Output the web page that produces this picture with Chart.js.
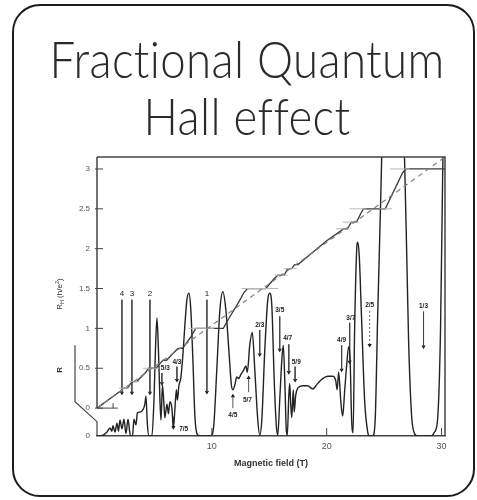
<!DOCTYPE html>
<html><head><meta charset="utf-8">
<script src="https://cdn.jsdelivr.net/npm/chart.js@4/dist/chart.umd.min.js"></script>
<style>
html,body{margin:0;padding:0;background:#fff;}
#wrap{position:relative;width:477px;height:500px;overflow:hidden;background:#fff;}
#frame{position:absolute;left:12px;top:4px;width:459px;height:489px;border:2px solid #1c1c1c;border-radius:28px;}
canvas{position:absolute;left:0;top:0;}
</style></head><body>
<div id="wrap"><div id="frame"></div><canvas id="c" width="477" height="500"></canvas></div>
<script>
const titleLines = ['Fractional Quantum', 'Hall effect'];
const xTicks = [10, 20, 30];
const yTicks = [0, 0.5, 1, 1.5, 2, 2.5, 3];
const yTickLabels = ['0', '0.5', '1', '1.5', '2', '2.5', '3'];

// Longitudinal resistance R (arbitrary units) vs magnetic field B (T)
const rB = [0,0.52,0.87,1.13,1.30,1.39,1.57,1.74,1.87,2.0,
  2.17,2.35,2.52,2.70,2.91,3.09,3.22,3.39,3.52,3.74,
  4.0,4.17,4.26,4.39,4.52,4.78,4.96,5.09,5.22,5.35,
  5.48,5.57,5.70,5.83,5.91,6.09,6.22,6.35,6.52,6.65,
  6.78,6.91,7.0,7.13,7.30,7.48,7.65,7.83,8.0,8.17,
  8.35,8.52,8.70,8.96,9.91,10.17,10.43,10.70,10.96,11.22,
  11.48,11.70,11.83,12.0,12.17,12.35,12.52,12.78,12.96,13.09,
  13.30,13.52,13.74,14.0,14.17,14.35,14.61,14.87,15.04,15.22,
  15.43,15.61,15.74,15.91,16.09,16.22,16.35,16.48,16.57,16.70,
  16.78,16.87,16.96,17.09,17.17,17.30,17.48,17.91,18.35,18.78,
  19.22,19.65,20.09,20.52,20.78,20.91,21.04,21.22,21.39,21.57,
  21.74,21.91,22.04,22.17,22.30,22.43,22.61,22.70,22.83,23.04,
  23.30,23.57,23.74,24.0,24.22,24.43,24.70,24.96,25.22,25.48,
  26.0,26.52,26.78,26.96,27.13,27.39,27.65,27.91,29.13,29.39,
  29.65,29.91,30.09,30.26];
const rVal = [0,0.01,0.05,0.10,0.06,0.13,0.05,0.16,0.06,0.20,
  0.09,0.21,0.03,0.21,0.0,0.0,0.21,0.14,0.29,0.30,
  0.33,0.40,0.50,0.14,0,0,0.45,1.08,1.48,1.08,
  0.45,0.20,0.64,0.39,0.23,0.40,0.28,0.43,0.35,0.10,
  0.33,0.58,0.45,0.63,0.73,1.02,1.39,1.71,1.79,1.58,
  0.95,0.26,0.03,0,0,0.14,0.83,1.58,1.81,1.58,
  1.08,0.64,0.58,0.64,0.74,0.72,0.77,0.83,0.88,0.80,
  1.14,1.30,0.83,0.20,0.01,0.20,1.08,1.71,1.79,1.64,
  0.70,0.14,0.01,0.45,0.95,1.14,0.70,0.08,0.01,0.51,
  0.66,0.39,0.23,0.58,0.30,0.51,0.60,0.63,0.63,0.59,
  0.66,0.72,0.75,0.75,0.70,0.58,0.80,0.45,0.25,0.58,
  0.89,1.12,0.95,0.20,0.04,1.33,2.33,2.43,2.27,1.46,
  0.45,0.05,0,0,0.20,1.46,2.96,4.47,5.2,5.35,
  5.5,4.72,3.46,2.33,1.20,0.26,0.03,0,0,0.05,
  0.20,1.33,3.21,4.7];

// Hall resistance R_H (h/e^2) vs B
const hB = [0,2.1,2.3,2.65,2.95,3.1,3.45,4.25,4.5,5.15,
  5.55,5.75,6.05,6.85,7.05,7.45,8.2,8.6,11.0,11.5,
  12.3,12.8,13.1,14.7,15.4,15.75,16.3,16.6,16.95,17.2,
  17.5,20.0,21.2,21.45,21.8,22.15,22.6,23.0,23.2,25.1,
  26.6,26.9,30.3];
const hVal = [0,0.22,0.25,0.25,0.31,0.333,0.333,0.45,0.5,0.5,
  0.57,0.6,0.6,0.72,0.75,0.75,0.9,1.0,1.0,1.13,
  1.32,1.45,1.5,1.5,1.62,1.667,1.667,1.75,1.75,1.8,
  1.8,2.1,2.22,2.25,2.25,2.333,2.333,2.45,2.5,2.5,
  2.95,3.0,3.0];

// Classical Hall line (dashed)
const classicalB = [0, 30.3];
const classicalR = [0, 3.15];

// R_H zero reference stub
const baseB = [0, 1.8];
const baseR = [0, 0];

// Quantized plateau marks (R_H level, field range)
const plateauR  = [0.25, 0.333, 0.5, 1.0, 1.5, 1.667, 1.75, 2.25, 2.333, 2.5, 2.5, 3.0];
const plateauB0 = [1.9, 2.8, 4.0, 8.0, 12.6, 15.5, 16.3, 20.8, 21.4, 22.0, 24.6, 25.5];
const plateauB1 = [2.8, 3.7, 5.4, 10.2, 15.8, 16.6, 17.4, 21.9, 22.8, 23.4, 25.7, 27.2];

// Filling-factor annotations (positions in B and R units)
const fracText   = ['4','3','2','1','5/3','4/3','7/5','2/3','3/5','4/7','5/9','4/5','5/7','4/9','3/7','2/5','1/3'];
const labelB     = [2.17,3.04,4.61,9.57,5.95,6.96,7.55,14.17,15.91,16.6,17.35,11.83,13.1,21.3,22.1,23.74,28.43];
const labelR     = [1.79,1.79,1.79,1.79,0.85,0.93,0.09,1.39,1.58,1.23,0.93,0.26,0.45,1.20,1.48,1.64,1.63];
const arrowB     = [2.17,3.04,4.61,9.57,5.65,6.96,6.65,14.17,15.91,16.7,17.25,11.83,13.2,21.3,22.0,23.74,28.43];
const arrowFromR = [1.71,1.71,1.71,1.71,0.79,0.87,0.24,1.33,1.50,1.15,0.87,0.35,0.55,1.14,1.42,1.57,1.56];
const arrowToR   = [0.54,0.54,0.54,0.55,0.66,0.70,0.11,1.02,1.08,0.80,0.70,0.50,0.73,0.83,0.93,1.14,1.12];
const arrowStyle = ['solid','solid','solid','solid','solid','solid','solid','solid','solid','solid','solid','solid','solid','solid','solid','dashed','solid'];

Chart.defaults.font.family = "'Liberation Sans', Arial, sans-serif";

const pts = (xs, ys) => xs.map((b, i) => ({x: b, y: ys[i]}));
const markerData = [];
plateauR.forEach((r, i) => {
  markerData.push({x: plateauB0[i], y: r}, {x: plateauB1[i], y: r}, {x: plateauB1[i], y: null});
});
function arrowSegments(style) {
  const out = [];
  fracText.forEach((t, i) => {
    if (arrowStyle[i] !== style) return;
    out.push({x: arrowB[i], y: arrowFromR[i]}, {x: arrowB[i], y: arrowToR[i]}, {x: arrowB[i], y: null});
  });
  return out;
}

const decor = {
  id: 'decor',
  beforeDraw(chart) {
    const ctx = chart.ctx;
    ctx.save();
    ctx.fillStyle = '#2a2a2a';
    ctx.font = "300 52px Lato, 'Open Sans', sans-serif";
    if ('letterSpacing' in ctx) ctx.letterSpacing = '0.4px';
    ctx.textAlign = 'center';
    ctx.textBaseline = 'alphabetic';
    const w = ctx.measureText(titleLines[0]).width;
    const sx = 395 / w;
    ctx.translate(247, 0);
    ctx.scale(sx, 1);
    ctx.fillText(titleLines[0], 0, 78);
    ctx.fillText(titleLines[1], 0, 135);
    ctx.restore();
  },
  afterDraw(chart) {
    const {ctx, chartArea: a, scales: {x, y, y2}} = chart;
    ctx.save();
    ctx.strokeStyle = '#444';
    ctx.lineWidth = 1.5;
    // frame top/right
    ctx.beginPath();
    ctx.moveTo(a.left, a.top); ctx.lineTo(a.right, a.top); ctx.lineTo(a.right, a.bottom);
    ctx.stroke();
    // R_H axis
    ctx.beginPath();
    ctx.moveTo(a.left, a.top); ctx.lineTo(a.left, y.getPixelForValue(0));
    ctx.stroke();
    // R axis with break
    ctx.lineWidth = 1.2;
    ctx.beginPath();
    ctx.moveTo(a.left - 22, y2.getPixelForValue(1.14));
    ctx.lineTo(a.left - 22, y2.getPixelForValue(0.43));
    ctx.lineTo(a.left, y2.getPixelForValue(0.18));
    ctx.lineTo(a.left, a.bottom);
    ctx.stroke();
    // inward ticks
    ctx.lineWidth = 1;
    ctx.beginPath();
    yTicks.forEach(v => { const p = y.getPixelForValue(v); ctx.moveTo(a.left - 2, p); ctx.lineTo(a.left + 6, p); });
    xTicks.forEach(v => { const p = x.getPixelForValue(v); ctx.moveTo(p, a.bottom); ctx.lineTo(p, a.bottom - 8); });
    ctx.moveTo(x.getPixelForValue(1.4), y.getPixelForValue(0)); ctx.lineTo(x.getPixelForValue(1.4), y.getPixelForValue(0) - 5);
    ctx.stroke();
    // R zero label
    ctx.fillStyle = '#555';
    ctx.font = "8px 'Liberation Sans', Arial, sans-serif";
    ctx.textAlign = 'right'; ctx.textBaseline = 'middle';
    ctx.fillText('0', a.left - 7, y2.getPixelForValue(0));
    // axis titles (rotated)
    ctx.fillStyle = '#333';
    ctx.save();
    ctx.translate(a.left - 37, y2.getPixelForValue(0.83));
    ctx.rotate(-Math.PI / 2);
    ctx.textAlign = 'center';
    ctx.font = "bold 8px 'Liberation Sans', Arial, sans-serif";
    ctx.fillText('R', 0, 0);
    ctx.restore();
    ctx.save();
    ctx.translate(a.left - 37, y2.getPixelForValue(1.78));
    ctx.rotate(-Math.PI / 2);
    ctx.textAlign = 'left';
    const f8 = "8px 'Liberation Sans', Arial, sans-serif", f5 = "5.5px 'Liberation Sans', Arial, sans-serif";
    const parts = [['R', f8, 0], ['H', f5, 2], [' (h/e', f8, 0], ['2', f5, -3], [')', f8, 0]];
    let tw = 0;
    parts.forEach(p => { ctx.font = p[1]; tw += ctx.measureText(p[0]).width; });
    let cx = -tw / 2;
    parts.forEach(p => { ctx.font = p[1]; ctx.fillText(p[0], cx, p[2]); cx += ctx.measureText(p[0]).width; });
    ctx.restore();
    // filling factor labels
    ctx.fillStyle = '#1a1a1a';
    ctx.textAlign = 'center'; ctx.textBaseline = 'middle';
    fracText.forEach((t, i) => {
      ctx.font = t.includes('/') ? "bold 6.5px 'Liberation Sans', Arial, sans-serif" : "8px 'Liberation Sans', Arial, sans-serif";
      ctx.fillText(t, x.getPixelForValue(labelB[i]), y2.getPixelForValue(labelR[i]));
    });
    ctx.restore();
  }
};

new Chart(document.getElementById('c'), {
  type: 'line',
  data: {
    datasets: [
      {data: pts(classicalB, classicalR), yAxisID: 'y', borderColor: '#808080', borderWidth: 1.2, borderDash: [5, 4], pointRadius: 0},
      {data: markerData, yAxisID: 'y', borderColor: '#b8b8b8', borderWidth: 1, pointRadius: 0, spanGaps: false},
      {data: pts(baseB, baseR), yAxisID: 'y', borderColor: '#444', borderWidth: 1, pointRadius: 0},
      {data: pts(hB, hVal), yAxisID: 'y', borderColor: '#3a3a3a', borderWidth: 1.3, pointRadius: 0},
      {data: pts(rB, rVal), yAxisID: 'y2', borderColor: '#222', borderWidth: 1.4, pointRadius: 0, cubicInterpolationMode: 'monotone'},
      {data: arrowSegments('solid'), yAxisID: 'y2', borderColor: '#444', borderWidth: 0.9, pointRadius: 0, spanGaps: false},
      {data: arrowSegments('dashed'), yAxisID: 'y2', borderColor: '#444', borderWidth: 0.9, borderDash: [2, 2], pointRadius: 0, spanGaps: false},
      {data: pts(arrowB, arrowToR), yAxisID: 'y2', showLine: false, pointStyle: 'triangle', pointRadius: 2.4,
       pointRotation: c => (arrowToR[c.dataIndex] < arrowFromR[c.dataIndex] ? 180 : 0),
       pointBackgroundColor: '#111', pointBorderColor: '#111', pointBorderWidth: 0}
    ]
  },
  options: {
    responsive: false, animation: false, devicePixelRatio: 1,
    layout: {padding: {top: 157, right: 32, left: 0, bottom: 0}},
    plugins: {legend: {display: false}, tooltip: {enabled: false}},
    scales: {
      x: {
        type: 'linear', min: 0, max: 30.3,
        afterBuildTicks: s => { s.ticks = xTicks.map(v => ({value: v})); },
        afterFit: s => { s.height = 64; },
        grid: {display: true, drawOnChartArea: false, drawTicks: false},
        border: {display: true, color: '#444', width: 1.5},
        ticks: {padding: 5, font: {size: 9}, color: '#555', callback: v => String(v)},
        title: {display: true, text: 'Magnetic field (T)', font: {size: 9, weight: 'bold'}, color: '#333', padding: {top: 0, bottom: 31}}
      },
      y: {
        type: 'linear', position: 'left', min: -0.35, max: 3.15,
        afterBuildTicks: s => { s.ticks = yTicks.map(v => ({value: v})); },
        afterFit: s => { s.width = 97; },
        grid: {display: true, drawOnChartArea: false, drawTicks: false},
        border: {display: false},
        ticks: {padding: 7, font: {size: 8}, color: '#555', callback: v => yTickLabels[yTicks.indexOf(v)]}
      },
      y2: {type: 'linear', display: false, min: 0, max: 3.5}
    }
  },
  plugins: [decor]
});
</script>
</body></html>
